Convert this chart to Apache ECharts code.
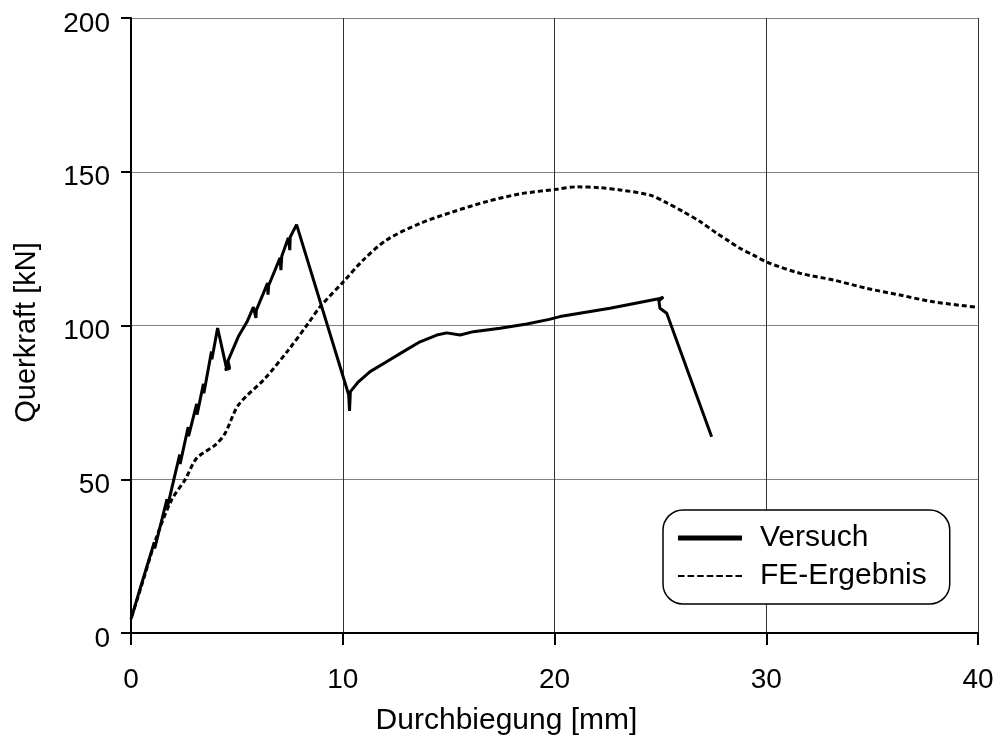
<!DOCTYPE html>
<html>
<head>
<meta charset="utf-8">
<script src="https://cdn.jsdelivr.net/npm/echarts@6/dist/echarts.min.js"></script>
<style>
  html, body { margin: 0; padding: 0; background: #fff; }
  #main { width: 1000px; height: 735px; }
</style>
</head>
<body>
<div id="main"></div>
<script>
// Versuch (Messung) - Durchbiegung [mm] / Querkraft [kN]
var versuchX = [0.0, 0.5, 1.1, 1.12, 1.7, 1.72, 2.3, 2.32, 2.7, 2.72, 3.1, 3.12, 3.42, 3.44, 3.8, 3.82, 4.09,
    4.52, 4.42, 4.66, 4.58, 5.07, 5.5, 5.78, 5.9, 5.92, 6.45, 6.47, 6.5, 7.04, 7.08, 7.12, 7.43, 7.5, 7.52, 7.82,
    10.28, 10.32, 10.36, 10.74, 11.29, 12.07, 12.86, 13.65, 14.44, 14.91, 15.54, 16.17, 17.43, 18.69, 19.75,
    20.26, 22.62, 24.98, 25.14, 24.93, 24.98, 25.3, 27.42];
var versuchY = [4.5, 16, 29.5, 27.5, 43.5, 41, 58, 55, 67, 64, 74.5, 71, 81, 78, 91.5, 89, 99.2,
    85.8, 85.6, 86.0, 88.5, 96.4, 101.5, 106, 102.5, 105, 113.8, 110, 113, 122, 118, 122.5, 128.5, 124.5, 128.8, 132.8,
    77.5, 72.2, 78.5, 81.7, 85, 88.2, 91.5, 94.7, 96.9, 97.6, 96.9, 98, 99.1, 100.5, 102,
    102.9, 105.6, 108.8, 109.2, 108.0, 105.6, 104, 63.8];

// FE-Ergebnis
var feX = [0.03, 0.58, 1.21, 1.92, 2.55, 3.1, 3.97, 4.44, 5.07, 6.33, 7.43, 8.37, 8.93, 10.03, 10.97, 12.07,
    13.65, 15.22, 16.8, 18.37, 20.1, 21.05, 22.15, 23.09, 24.51, 25.3, 26.08, 26.87, 27.66, 28.2, 28.76, 29.39,
    30.1, 31.59, 33.17, 34.74, 36.32, 37.89, 40];
var feY = [5.3, 17.2, 31.3, 43.3, 49.8, 56.8, 61.1, 64.9, 74.1, 82.8, 92, 100.7, 106.1, 114.2, 121.3, 127.8,
    133.2, 137, 140.3, 142.8, 144.3, 145.1, 144.8, 144.1, 142.4, 139.9, 137, 133.8, 130, 127.6, 125.1, 122.9,
    120.4, 117, 114.8, 112.1, 109.9, 107.7, 105.9];

var seriesNames = ['Versuch', 'FE-Ergebnis'];
var xTicks = [0, 40, 10];   // min, max, interval
var yTicks = [0, 200, 50];

function zip(xs, ys) {
    var out = [];
    for (var i = 0; i < xs.length; i++) {
        out.push([xs[i], ys[i]]);
    }
    return out;
}

// legend icons: dicke Linie / gestrichelte Linie
var iconSolid = 'path://M0,0h64v5h-64z';
var iconDash = 'path://';
for (var k = 0; k < 7; k++) {
    iconDash += 'M' + (k * 9.5) + ',0h6.5v2h-6.5z';
}

var font = "'Liberation Sans', Arial, sans-serif";
var chart = echarts.init(document.getElementById('main'));

var option = {
    animation: false,
    backgroundColor: '#fff',
    textStyle: { fontFamily: font, color: '#000' },
    grid: { left: 131, right: 22, top: 18, bottom: 102, containLabel: false, outerBoundsMode: 'none' },
    xAxis: {
        type: 'value',
        min: xTicks[0], max: xTicks[1], interval: xTicks[2],
        name: 'Durchbiegung [mm]',
        nameLocation: 'middle',
        nameGap: 73,
        nameTextStyle: { fontSize: 30, color: '#000', fontFamily: font, padding: [0, 96, 0, 0] },
        axisLine: { onZero: false, lineStyle: { color: '#000', width: 2 } },
        axisTick: { show: true, length: 12, lineStyle: { color: '#000', width: 2 } },
        axisLabel: { fontSize: 28, color: '#000', margin: 33, fontFamily: font },
        splitLine: { show: true, lineStyle: { color: '#333', width: 1 } }
    },
    yAxis: {
        type: 'value',
        min: yTicks[0], max: yTicks[1], interval: yTicks[2],
        name: 'Querkraft [kN]',
        nameLocation: 'middle',
        nameGap: 90,
        nameTextStyle: { fontSize: 29, color: '#000', fontFamily: font, padding: [0, 14, 0, 0] },
        axisLine: { onZero: false, lineStyle: { color: '#000', width: 2 } },
        axisTick: { show: true, length: 10, lineStyle: { color: '#000', width: 2 } },
        axisLabel: { fontSize: 28, color: '#000', margin: 21, fontFamily: font, verticalAlign: 'top', lineHeight: 12 },
        splitLine: { show: true, lineStyle: { color: '#808080', width: 1 } }
    },
    legend: {
        orient: 'vertical',
        left: 663,
        top: 510,
        padding: [13, 23, 13, 15],
        itemWidth: 64,
        itemHeight: 20,
        itemGap: 8,
        backgroundColor: '#fff',
        borderColor: '#000',
        borderWidth: 1.5,
        borderRadius: 20,
        textStyle: { fontSize: 30, color: '#000', fontFamily: font, padding: [0, 0, 0, 13] },
        data: [
            { name: seriesNames[0], icon: iconSolid, itemStyle: { color: '#000' } },
            { name: seriesNames[1], icon: iconDash, itemStyle: { color: '#000' } }
        ]
    },
    series: [
        {
            name: seriesNames[1],
            type: 'line',
            symbol: 'none',
            smooth: 0.3,
            data: zip(feX, feY),
            lineStyle: { color: '#000', width: 3, type: [5, 3] },
            itemStyle: { color: '#000' },
            z: 2
        },
        {
            name: seriesNames[0],
            type: 'line',
            symbol: 'none',
            data: zip(versuchX, versuchY),
            lineStyle: { color: '#000', width: 3 },
            itemStyle: { color: '#000' },
            z: 3
        }
    ]
};

chart.setOption(option);
</script>
</body>
</html>
